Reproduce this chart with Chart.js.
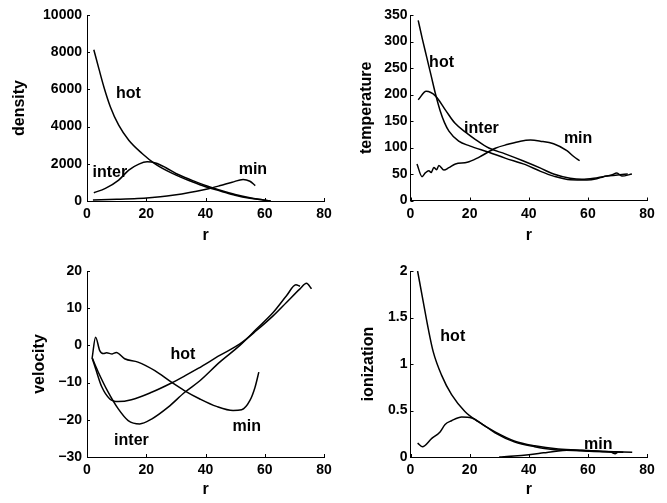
<!DOCTYPE html>
<html>
<head>
<meta charset="utf-8">
<script src="https://cdn.jsdelivr.net/npm/chart.js@4/dist/chart.umd.min.js"></script>
<style>
  body { margin: 0; background: #fff; width: 667px; height: 503px; overflow: hidden; position: relative; }
  .panel { position: absolute; left: 0; top: 0; width: 667px; height: 503px; }
</style>
</head>
<body>
<div class="panel"><canvas id="density" width="667" height="503"></canvas></div>
<div class="panel"><canvas id="temperature" width="667" height="503"></canvas></div>
<div class="panel"><canvas id="velocity" width="667" height="503"></canvas></div>
<div class="panel"><canvas id="ionization" width="667" height="503"></canvas></div>
<script>
// tick labels
const rTicks = [0, 20, 40, 60, 80]
const densityTicks = [0, 2000, 4000, 6000, 8000, 10000]
const tempTicks = [0, 50, 100, 150, 200, 250, 300, 350]
const velTicks = [-30, -20, -10, 0, 10, 20]
const ionTicks = [0, 0.5, 1, 1.5, 2]

// density
const densHotR = [2.3, 4, 5.7, 7.9, 10.7, 14.1, 18.6, 23.1, 28.8, 35.5, 40, 45, 50, 55, 59.5, 62]
const densHot = [8134, 7115, 6130, 5056, 4075, 3270, 2557, 1984, 1485, 1035, 767, 540, 310, 145, 50, 0]
const densInterR = [2.3, 6.2, 10.7, 14.1, 17.5, 20.3, 23.1, 26.5, 30, 35.5, 40, 45, 50, 55, 59.5, 62]
const densInter = [445, 680, 1126, 1662, 1984, 2107, 2040, 1800, 1480, 1110, 830, 580, 350, 170, 60, 0]
const densMinR = [2, 10, 17, 22, 27, 32, 37, 41, 45, 49, 52.7, 55, 56.8]
const densMin = [60, 90, 130, 190, 270, 380, 520, 660, 830, 1010, 1160, 1060, 830]

// temperature
const tempHotR = [2.6, 4, 5.5, 7, 8.5, 10, 11.5, 13, 16.3, 20, 26.5, 32, 38.9, 44, 48.4, 54.1, 59.7, 63, 65.3, 68, 69.8, 71.5, 74.9]
const tempHot = [340, 305, 270, 235, 200, 170, 147, 131, 112, 103, 91, 80, 67.6, 55, 46, 39, 38.5, 41, 45, 48, 52, 46, 50]
const tempInterR = [2.6, 5.3, 8.5, 11.9, 15, 18.6, 22, 26.5, 32, 38, 44, 48.4, 54, 58, 62, 66, 70, 73.5]
const tempInter = [190, 206, 197, 170, 146, 129, 115, 99, 88, 75, 61, 50, 42, 40, 42, 46, 48, 50]
const tempMinR = [2.2, 3.9, 5, 6.2, 7, 7.9, 8.8, 9.6, 11.3, 13, 15.2, 19.2, 23.1, 28.7, 33, 37.2, 40.6, 43.9, 48.4, 52.9, 55.2, 57.2]
const tempMin = [69, 45, 52, 56, 53, 62.5, 58, 66, 57.5, 62, 69, 72, 81.5, 98.6, 106, 112, 114, 112, 107, 94, 83, 75]

// velocity
const velHotR = [1.8, 3, 4.9, 7.7, 10.5, 15, 21.8, 28.5, 33, 37.5, 44.8, 51.6, 57.2, 62.9, 67.4, 71.9, 74.1, 75.8]
const velHot = [-3.5, -6.5, -11, -14.4, -15.1, -14.6, -12.6, -10.1, -8.2, -6.2, -2.7, 0.4, 4, 8, 11.6, 15.2, 16.7, 15.2]
const velInterR = [1.8, 3.7, 7.1, 10.5, 13.9, 17.8, 21.8, 27.4, 33, 38.1, 44.8, 51.6, 57.2, 62.9, 67.4, 70.5, 71.9]
const velInter = [-3.5, -7, -12.5, -17, -20.2, -21.1, -19.8, -16.6, -12.6, -9.5, -4.5, 0, 4.4, 8.9, 13.4, 16.3, 15.9]
const velMinR = [1.7, 2.9, 4.3, 5.5, 6.6, 8.5, 9.9, 12.7, 17.2, 22.9, 28.5, 33, 38.1, 43.7, 49.3, 52.2, 55, 56.7, 58]
const velMin = [-3.6, 2.2, -1.4, -2.2, -2, -2.3, -1.9, -3.6, -4.5, -6.8, -9.9, -12.2, -14.4, -16.4, -17.5, -17.3, -14.8, -11.3, -7.2]

// ionization
const ionHotR = [2.4, 4.3, 6, 7.7, 10.5, 13.9, 18.4, 22.9, 28.6, 35.3, 42, 50, 58, 66, 75]
const ionHot = [2.0, 1.67, 1.38, 1.13, 0.88, 0.67, 0.49, 0.38, 0.27, 0.17, 0.12, 0.085, 0.07, 0.06, 0.05]
const ionInterR = [2.4, 4, 7.2, 10, 11.7, 13.9, 17.3, 20.7, 24, 28.6, 35.3, 42, 48, 55, 62, 72]
const ionInter = [0.15, 0.11, 0.2, 0.27, 0.35, 0.39, 0.43, 0.42, 0.36, 0.26, 0.16, 0.11, 0.08, 0.07, 0.06, 0.05]
const ionMinR = [30, 35, 40, 45, 50, 55, 60, 65, 68, 69.2, 70]
const ionMin = [0, 0.01, 0.025, 0.045, 0.065, 0.075, 0.07, 0.06, 0.05, 0.035, 0.05]

const FONT = '"Liberation Sans", Arial, Helvetica, sans-serif'
Chart.defaults.font.family = FONT
Chart.defaults.color = '#000'

const pairs = (rs, vs) => rs.map((r, i) => ({x: r, y: vs[i]}))
const minus = v => String(v).replace('-', '\u2212')

// MATLAB-like inward ticks + the curve names
const matlabBits = {
    id: 'matlabBits',
    afterDraw(chart, args, opts) {
        const ctx = chart.ctx
        const x = chart.scales.x
        const y = chart.scales.y
        ctx.save()
        ctx.strokeStyle = '#000'
        ctx.lineWidth = 1
        ctx.beginPath()
        x.ticks.forEach(t => {
            const px = Math.round(x.getPixelForValue(t.value)) + 0.5
            ctx.moveTo(px, y.bottom)
            ctx.lineTo(px, y.bottom - 3)
        })
        y.ticks.forEach(t => {
            const py = Math.round(y.getPixelForValue(t.value)) + 0.5
            ctx.moveTo(x.left, py)
            ctx.lineTo(x.left + 3, py)
        })
        ctx.stroke()
        ctx.font = 'bold 16px ' + FONT
        ctx.fillStyle = '#000'
        ctx.textAlign = 'center'
        ctx.textBaseline = 'middle'
        opts.notes.forEach(n => {
            ctx.fillText(n.text, x.getPixelForValue(n.r), y.getPixelForValue(n.v))
        })
        ctx.restore()
    }
}

const makePanel = (id, series, yTicks, yLabel, notes, box) => {
    const ctx = document.querySelector('#' + id).getContext('2d')
    return new Chart(ctx, {
        type: 'scatter',
        data: {
            datasets: series.map(s => ({
                data: pairs(s[0], s[1]),
                showLine: true,
                borderColor: '#000',
                borderWidth: 1.5,
                pointRadius: 0,
                cubicInterpolationMode: 'monotone',
                fill: false
            }))
        },
        options: {
            responsive: false,
            animation: false,
            events: [],
            layout: { padding: { left: box.padL, right: box.padR, top: box.padT, bottom: box.padB } },
            plugins: {
                legend: { display: false },
                tooltip: { enabled: false },
                matlabBits: { notes: notes }
            },
            scales: {
                x: {
                    type: 'linear',
                    min: 0, max: 80,
                    afterBuildTicks: s => { s.ticks = rTicks.map(v => ({value: v})) },
                    afterFit: s => { s.height = 46 },
                    grid: { display: false, drawTicks: false },
                    border: { display: true, color: '#000', width: 1 },
                    ticks: { padding: 5, font: { size: 14, weight: 'bold' }, color: '#000', maxRotation: 0 },
                    title: { display: true, text: 'r', font: { size: 16, weight: 'bold' }, color: '#000', padding: { top: 0, bottom: box.xTitlePad } }
                },
                y: {
                    type: 'linear',
                    min: yTicks[0], max: yTicks[yTicks.length - 1],
                    afterBuildTicks: s => { s.ticks = yTicks.map(v => ({value: v})) },
                    afterFit: s => { s.width = box.yWidth },
                    grid: { display: false, drawTicks: false },
                    border: { display: true, color: '#000', width: 1 },
                    ticks: { padding: box.yTickPad, font: { size: 14, weight: 'bold' }, color: '#000', callback: v => minus(v) },
                    title: { display: true, text: yLabel, font: { size: 16, weight: 'bold' }, color: '#000', padding: { top: box.yTitlePad, bottom: 0 } }
                }
            }
        },
        plugins: [matlabBits]
    })
}

makePanel('density',
    [[densHotR, densHot], [densInterR, densInter], [densMinR, densMin]],
    densityTicks, 'density',
    [{text: 'hot', r: 14, v: 5775}, {text: 'inter', r: 7.7, v: 1517}, {text: 'min', r: 56, v: 1700}],
    {padL: 0, padR: 343, padT: 15, padB: 256, yWidth: 87, yTickPad: 5, yTitlePad: 10, xTitlePad: 1.4})

makePanel('temperature',
    [[tempHotR, tempHot], [tempInterR, tempInter], [tempMinR, tempMin]],
    tempTicks, 'temperature',
    [{text: 'hot', r: 10.5, v: 260}, {text: 'inter', r: 24, v: 135}, {text: 'min', r: 56.7, v: 116}],
    {padL: 346, padR: 20, padT: 15, padB: 256.5, yWidth: 64.5, yTickPad: 3, yTitlePad: 11.4, xTitlePad: 1.4})

makePanel('velocity',
    [[velHotR, velHot], [velInterR, velInter], [velMinR, velMin]],
    velTicks, 'velocity',
    [{text: 'hot', r: 32.4, v: -2.4}, {text: 'inter', r: 15, v: -25.7}, {text: 'min', r: 53.9, v: -21.7}],
    {padL: 0, padR: 343, padT: 271, padB: 0, yWidth: 87, yTickPad: 5, yTitlePad: 30, xTitlePad: 3.4})

makePanel('ionization',
    [[ionHotR, ionHot], [ionInterR, ionInter], [ionMinR, ionMin]],
    ionTicks, 'ionization',
    [{text: 'hot', r: 14.3, v: 1.29}, {text: 'min', r: 63.5, v: 0.134}],
    {padL: 346, padR: 20, padT: 271, padB: 0, yWidth: 64.5, yTickPad: 3, yTitlePad: 13.4, xTitlePad: 3.4})
</script>
</body>
</html>
